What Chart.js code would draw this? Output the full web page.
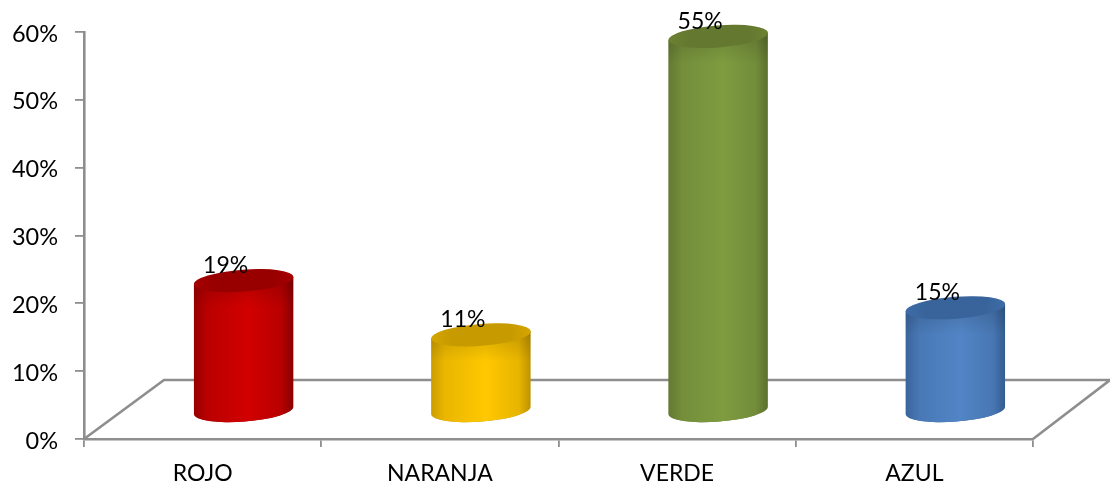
<!DOCTYPE html>
<html>
<head>
<meta charset="utf-8">
<style>
html,body{margin:0;padding:0;background:#fff;}
#wrap{position:relative;width:1110px;height:493px;}
</style>
<script src="https://cdn.jsdelivr.net/npm/chart.js@4"></script>
</head>
<body>
<div id="wrap"><canvas id="c" width="1110" height="493"></canvas></div>
<script>
const categories = ['ROJO', 'NARANJA', 'VERDE', 'AZUL'];
const values = [19, 11, 55, 15];
const yTicks = [0, 10, 20, 30, 40, 50, 60];
const bodyColors = ['#d20000', '#ffc800', '#7f9c40', '#5285c6'];
const edgeColors = ['#7c0000', '#b58a00', '#56692c', '#2f5688'];
const capColors = ['#980000', '#c79a00', '#64792f', '#38649b'];
const axisColor = '#8e8e8e';
const fontFamily = 'Lato, "Open Sans", sans-serif';

const depthX = 80, depthY = 59;
const tilt = -0.075, ry = 11;

const floorPlugin = {
  id: 'floor',
  beforeDatasetsDraw(chart) {
    const {ctx, chartArea: a} = chart;
    ctx.save();
    ctx.strokeStyle = axisColor;
    ctx.lineWidth = 2.6;
    ctx.beginPath();
    ctx.moveTo(a.left, a.bottom);
    ctx.lineTo(a.left + depthX, a.bottom - depthY);
    ctx.lineTo(a.right + depthX - 3, a.bottom - depthY);
    ctx.lineTo(a.right, a.bottom);
    ctx.stroke();
    ctx.restore();
  }
};

const cylinderPlugin = {
  id: 'cylinders',
  afterDatasetsDraw(chart) {
    const {ctx} = chart;
    const meta = chart.getDatasetMeta(0);
    meta.data.forEach((bar, i) => {
      const rx = bar.width / 2;
      const cx = bar.x + depthX / 2 + 1;
      const topY = bar.y - depthY / 2;
      const botY = bar.base - depthY / 2 + 2;
      const sx = rx * Math.cos(tilt), sy = rx * Math.sin(tilt);

      const g = ctx.createLinearGradient(cx - rx, 0, cx + rx, 0);
      g.addColorStop(0, bodyColors[i] + '50');
      g.addColorStop(0.14, bodyColors[i] + 'b8');
      g.addColorStop(0.55, bodyColors[i]);
      g.addColorStop(0.88, bodyColors[i] + 'b0');
      g.addColorStop(1, bodyColors[i] + '20');

      ctx.save();
      const body = new Path2D();
      body.moveTo(cx - sx, topY - sy);
      body.lineTo(cx - sx, botY - sy);
      body.ellipse(cx, botY, rx, ry, tilt, Math.PI, 0, true);
      body.lineTo(cx + sx, topY + sy);
      body.closePath();
      ctx.fillStyle = edgeColors[i];
      ctx.fill(body);
      ctx.fillStyle = g;
      ctx.fill(body);

      // darker band below the rim
      const band = ctx.createLinearGradient(0, topY, 0, topY + ry + 16);
      band.addColorStop(0, 'rgba(0,0,0,0.14)');
      band.addColorStop(1, 'rgba(0,0,0,0)');
      ctx.fillStyle = band;
      ctx.fill(body);

      // top cap
      ctx.fillStyle = capColors[i];
      ctx.beginPath();
      ctx.ellipse(cx, topY, rx, ry, tilt, 0, Math.PI * 2);
      ctx.fill();
      const cap = ctx.createLinearGradient(cx - rx, 0, cx + rx, 0);
      cap.addColorStop(0, bodyColors[i] + '40');
      cap.addColorStop(0.2, bodyColors[i] + '00');
      cap.addColorStop(0.8, bodyColors[i] + '00');
      cap.addColorStop(1, bodyColors[i] + '40');
      ctx.fillStyle = cap;
      ctx.fill();

      // value label
      ctx.fillStyle = '#000';
      ctx.font = '23px ' + fontFamily;
      ctx.textAlign = 'center';
      ctx.textBaseline = 'middle';
      ctx.fillText(values[i] + '%', cx - 18, topY - 15);
      ctx.restore();
    });
  }
};

new Chart(document.getElementById('c'), {
  type: 'bar',
  data: {
    labels: categories,
    datasets: [{
      data: values,
      backgroundColor: 'rgba(0,0,0,0)',
      borderWidth: 0,
      categoryPercentage: 1,
      barPercentage: 0.42
    }]
  },
  options: {
    responsive: false,
    animation: false,
    layout: {padding: {top: 32, right: 77, left: 0, bottom: 0}},
    plugins: {legend: {display: false}, tooltip: {enabled: false}, title: {display: false}},
    scales: {
      x: {
        afterFit(s) { s.height = 54; },
        border: {color: axisColor, width: 2.6},
        grid: {drawOnChartArea: false, drawTicks: true, tickLength: 8, color: axisColor, lineWidth: 1.8},
        ticks: {color: '#000', font: {family: fontFamily, size: 23}, padding: 13, maxRotation: 0}
      },
      y: {
        min: 0,
        max: 60,
        afterFit(s) { s.width = 84; },
        afterBuildTicks(s) { s.ticks = yTicks.map(v => ({value: v})); },
        border: {color: axisColor, width: 2.6},
        grid: {drawOnChartArea: false, drawTicks: true, tickLength: 9, color: axisColor, lineWidth: 1.8},
        ticks: {color: '#000', font: {family: fontFamily, size: 23.5}, padding: 17, labelOffset: 2, callback: v => v + '%'}
      }
    }
  },
  plugins: [floorPlugin, cylinderPlugin]
});
</script>
</body>
</html>
